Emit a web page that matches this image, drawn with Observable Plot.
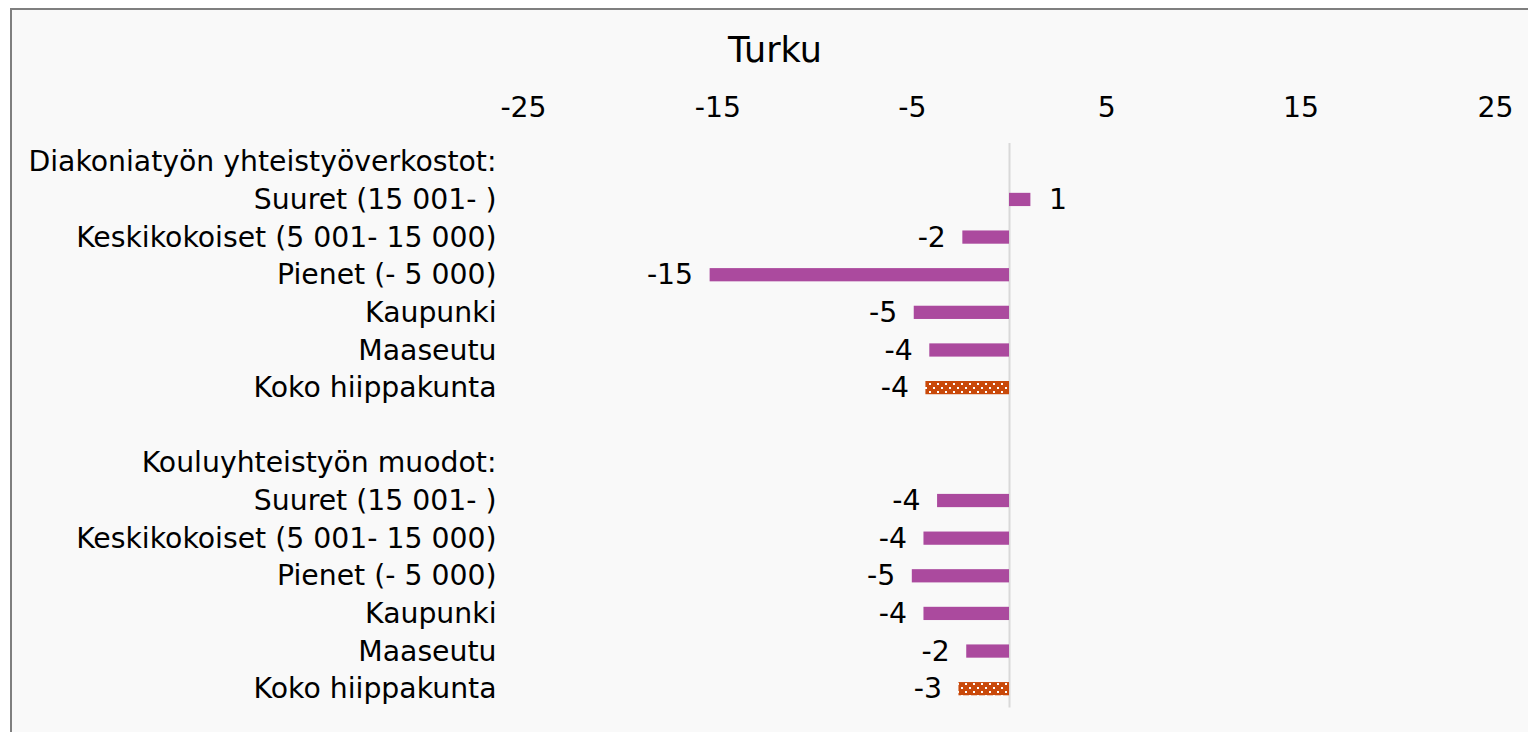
<!DOCTYPE html>
<html><head><meta charset="utf-8">
<script src="https://cdn.jsdelivr.net/npm/d3@7"></script>
<script src="https://cdn.jsdelivr.net/npm/@observablehq/plot@0.6"></script>
<style>
html,body{margin:0;padding:0;background:#fff;overflow:hidden;width:1528px;height:732px;}
#frame{position:absolute;left:10px;top:8px;width:1540px;height:760px;border-left:2px solid #7f7f7f;border-top:2px solid #7f7f7f;background:#f9f9f9;font-family:"DejaVu Sans";}
#title{height:80px;line-height:80px;text-align:center;font-size:35px;color:#000;width:1526px;}
#chart svg{display:block;}
</style></head><body>
<div id="frame"><div id="title">Turku</div><div id="chart"></div></div>
<script>
const rowIds = [0,1,2,3,4,5,6,7,8,9,10,11,12,13,14];
const rowLabels = [
  "Diakoniatyön yhteistyöverkostot:",
  "Suuret (15 001- )",
  "Keskikokoiset (5 001- 15 000)",
  "Pienet (- 5 000)",
  "Kaupunki",
  "Maaseutu",
  "Koko hiippakunta",
  "",
  "Kouluyhteistyön muodot:",
  "Suuret (15 001- )",
  "Keskikokoiset (5 001- 15 000)",
  "Pienet (- 5 000)",
  "Kaupunki",
  "Maaseutu",
  "Koko hiippakunta"
];
const values = [null, 1.1, -2.4, -15.4, -4.9, -4.1, -4.3, null, null, -3.7, -4.4, -5.0, -4.4, -2.2, -2.6];
const kinds = [null, "part", "part", "part", "part", "part", "total", null, null, "part", "part", "part", "part", "part", "total"];
const xTicks = [-25, -15, -5, 5, 15, 25];

const data = rowIds.map((id, i) => ({id, value: values[i], kind: kinds[i]})).filter(d => d.value != null);
const parts = data.filter(d => d.kind === "part");
const totals = data.filter(d => d.kind === "total");
const fmt = v => v.toFixed(0);

const plot = Plot.plot({
  width: 1516, height: 642,
  marginTop: 53, marginBottom: 24.5, marginLeft: 511, marginRight: 33,
  style: {fontFamily: "DejaVu Sans", fontSize: "28.3px", background: "transparent", color: "#000", overflow: "visible"},
  x: {domain: [-25, 25], ticks: xTicks, axis: "top", tickSize: 0, tickPadding: 27, label: null, tickFormat: d => String(d)},
  y: {domain: rowIds, padding: 0, round: false, axis: "left", tickSize: 0, tickPadding: 27, label: null, tickFormat: i => rowLabels[i]},
  marks: [
    Plot.ruleX([0], {stroke: "#d9d9d9", strokeWidth: 2}),
    Plot.barX(parts, {x: "value", y: "id", fill: "#ab4a9e", insetTop: 12.2, insetBottom: 12.2}),
    Plot.barX(totals, {x: "value", y: "id", fill: "#c9490a", insetTop: 12.2, insetBottom: 12.2}),
    Plot.text(data.filter(d => d.value < 0), {x: "value", y: "id", text: d => fmt(d.value), textAnchor: "end", dx: -17, fill: "#000"}),
    Plot.text(data.filter(d => d.value >= 0), {x: "value", y: "id", text: d => fmt(d.value), textAnchor: "start", dx: 18, fill: "#000"})
  ]
});

const svg = d3.select(plot);
const defs = svg.insert("defs", ":first-child");
const pat = defs.append("pattern").attr("id", "dots").attr("width", 8).attr("height", 8).attr("patternUnits", "userSpaceOnUse");
pat.append("rect").attr("width", 8).attr("height", 8).attr("fill", "#c9490a");
pat.append("rect").attr("x", 1).attr("y", 1).attr("width", 2).attr("height", 2).attr("fill", "#fff");
pat.append("rect").attr("x", 5).attr("y", 5).attr("width", 2).attr("height", 2).attr("fill", "#fff");
svg.selectAll('g[fill="#c9490a"]').attr("fill", "url(#dots)");
svg.selectAll('g[aria-label="y-axis tick label"] text, g[aria-label="x-axis tick label"] text').attr("fill", "#000");

document.getElementById("chart").appendChild(plot);
</script>
</body></html>
